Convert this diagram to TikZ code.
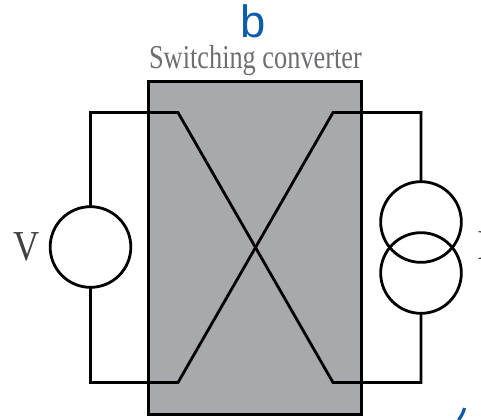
\documentclass[tikz,border=0pt]{standalone}
\usepackage{fontspec}
\setmainfont{Liberation Serif}
\setsansfont{Liberation Sans}
\definecolor{boxgrey}{HTML}{A7A9AC}
\definecolor{labelgrey}{HTML}{6D6E71}
\definecolor{darkV}{HTML}{414042}
\definecolor{panelblue}{HTML}{0B5CAB}
\begin{document}
\begin{tikzpicture}[
    x=0.75pt, y=-0.75pt,
    wire/.style={line width=2.1pt, line join=miter, black},
    source/.style={circle, draw=black, line width=2.1pt, minimum size=60.5pt, inner sep=0pt, outer sep=0pt}
]
\useasboundingbox (0,0) rectangle (481,419);
% ---- converter box ----
\node[rectangle, draw=black, line width=2.2pt, fill=boxgrey, minimum width=159.5pt, minimum height=249.5pt, inner sep=0pt, outer sep=0pt] (conv) at (255,248) {};
\node[font=\sffamily\fontsize{34}{34}\selectfont, text=panelblue, inner sep=0pt] (panel) at (253,21) {b};
\node[font=\fontsize{25}{25}\selectfont, text=labelgrey, xscale=0.79, inner sep=0pt] (title) at (255.5,60.5) {Switching converter};

% ---- sources ----
\node[source] (vsrc) at (90.5,247) {};
\node[source] (itop) at (421,222) {};
\node[source] (ibot) at (421,273) {};
\node[font=\fontsize{32}{32}\selectfont, text=darkV, xscale=0.85, inner sep=0pt] (vlab) at (27,247) {V};
\node[font=\fontsize{32}{32}\selectfont, text=darkV, inner sep=0pt] (ilab) at (485,246) {I};

% ---- crossed wires ----
\coordinate (tl) at (178,112.5);
\coordinate (tr) at (333,112.5);
\coordinate (bl) at (178,382.5);
\coordinate (br) at (333,382.5);
\draw[wire] (vsrc.north) |- (tl) -- (br) -| (ibot.south);
\draw[wire] (vsrc.south) |- (bl) -- (tr) -| (itop.north);

% clipped mark of next panel
\draw[line width=2.4pt, panelblue] (464.5,408) .. controls (463.5,412) and (461.5,416) .. (458.5,420);
\end{tikzpicture}
\end{document}
